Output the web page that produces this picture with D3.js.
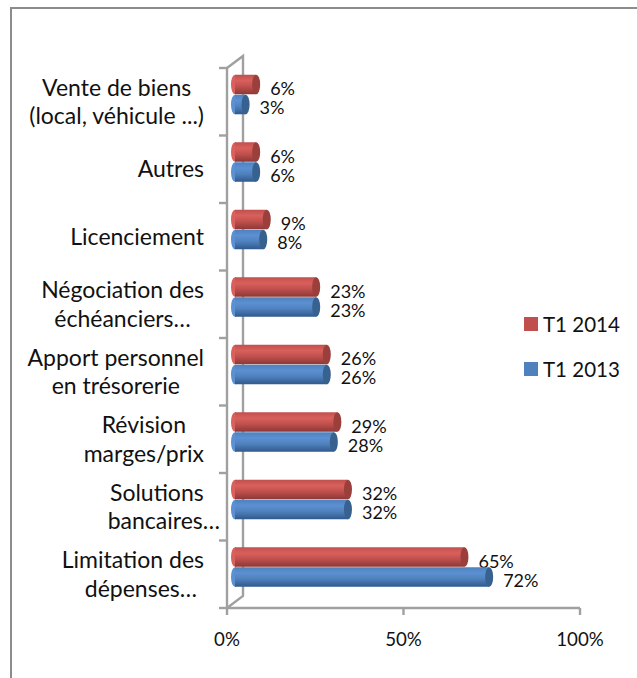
<!DOCTYPE html>
<html><head><meta charset="utf-8"><script src="https://cdn.jsdelivr.net/npm/d3@7"></script>
<style>html,body{margin:0;background:#fff}svg{display:block}text{font-family:"Lato","Open Sans",sans-serif;fill:#111}</style></head>
<body><div id="c"></div>
<script>
const categories=[["Vente de biens","(local, véhicule ...)"],["Autres"],["Licenciement"],["Négociation des","échéanciers…"],["Apport personnel","en trésorerie"],["Révision","marges/prix"],["Solutions","bancaires…"],["Limitation des","dépenses…"]];
const t12014=[6,6,9,23,26,29,32,65];
const t12013=[3,6,8,23,26,28,32,72];
const labels2014=["6%","6%","9%","23%","26%","29%","32%","65%"];
const labels2013=["3%","6%","8%","23%","26%","28%","32%","72%"];
const xTicks=[0,50,100];
const seriesNames=["T1 2014","T1 2013"];
const seriesColors=[{base:"#c0504d",light:"#d9605c",dark:"#8c3836",cap:"#9a3f3c"},{base:"#4f81bd",light:"#5b90d2",dark:"#31598c",cap:"#37618f"}];

const W=637,H=678,FS=18.7;
const svg=d3.select("#c").append("svg").attr("width",W).attr("height",H);
const defs=svg.append("defs");
seriesColors.forEach((c,i)=>{
  const g=defs.append("linearGradient").attr("id","g"+i).attr("x1",0).attr("x2",0).attr("y1",0).attr("y2",1);
  [[0,c.base],[.3,c.light],[.6,c.base],[1,c.dark]].forEach(s=>g.append("stop").attr("offset",s[0]).attr("stop-color",s[1]));
});
svg.append("path").attr("d",`M11,${H}V8H${W}`).attr("fill","none").attr("stroke","#8c8c8c").attr("stroke-width",2);

const x=d3.scaleLinear().domain([0,100]).range([227,580]);
const y=d3.scaleBand().domain(d3.range(categories.length)).range([68,608]);
const grey="#a0a0a0",dx=16,dy=-12;
const ax=svg.append("g").attr("stroke",grey).attr("stroke-width",2.4).attr("fill","none");
ax.append("path").attr("d",`M${x(0)},${y.range()[0]}V${y.range()[1]}H${x(100)}`);
ax.append("path").attr("d",`M${x(0)},${y.range()[0]}l${dx},${dy}V${y.range()[1]+dy}l${-dx},${-dy}`);
d3.range(categories.length+1).forEach(i=>{
  const p=y.range()[0]+i*y.step();
  ax.append("line").attr("x1",x(0)-8).attr("x2",x(0)).attr("y1",p).attr("y2",p);
});
xTicks.forEach(t=>ax.append("line").attr("x1",x(t)).attr("x2",x(t)).attr("y1",y.range()[1]).attr("y2",y.range()[1]+7));
svg.selectAll("text.xt").data(xTicks).join("text").attr("class","xt").attr("x",d=>x(d)).attr("y",646).attr("text-anchor","middle").attr("font-size",FS).text(d=>d+"%");

const barH=19.5,off=8,rx=4;
const rows=[[t12014,labels2014,0,-27],[t12013,labels2013,1,-7]];
d3.range(categories.length).forEach(i=>{
  const cy=y(i)+y.bandwidth()/2;
  rows.forEach(([vals,labs,si,dyy])=>{
    const c=seriesColors[si],top=cy+dyy,x0=x(0)+off,x1=x(vals[i])+off;
    const g=svg.append("g");
    g.append("ellipse").attr("cx",x0).attr("cy",top+barH/2).attr("rx",rx).attr("ry",barH/2).attr("fill",c.light);
    g.append("rect").attr("x",x0).attr("y",top).attr("width",x1-x0).attr("height",barH).attr("fill",`url(#g${si})`);
    g.append("ellipse").attr("cx",x1).attr("cy",top+barH/2).attr("rx",rx).attr("ry",barH/2).attr("fill",c.cap);
    svg.append("text").attr("x",x1+rx+10).attr("y",top+barH+(si?0:1)).attr("font-size",18).text(labs[i]);
  });
  const ls=categories[i],lh=28.5;
  const ts=ls.map((l,k)=>svg.append("text").attr("y",cy+8-(ls.length-1)*lh/2+k*lh).attr("text-anchor","middle").attr("font-size",23).text(l));
  const maxW=d3.max(ts,t=>t.node().getComputedTextLength());
  const right=i===6?220:204;
  // the last two rows' lines are not quite centred on one another in the reference
  const shift=k=>(i===6&&k===0)?-7:(i===7&&k===1)?8:0;
  ts.forEach((t,k)=>t.attr("x",right-maxW/2+shift(k)));
});
const legY=[324,369];
seriesNames.forEach((n,i)=>{
  const ly=legY[i];
  svg.append("rect").attr("x",524).attr("y",ly-7).attr("width",14).attr("height",14).attr("fill",seriesColors[i].base);
  svg.append("text").attr("x",543).attr("y",ly+8).attr("font-size",20.5).text(n);
});
</script></body></html>
